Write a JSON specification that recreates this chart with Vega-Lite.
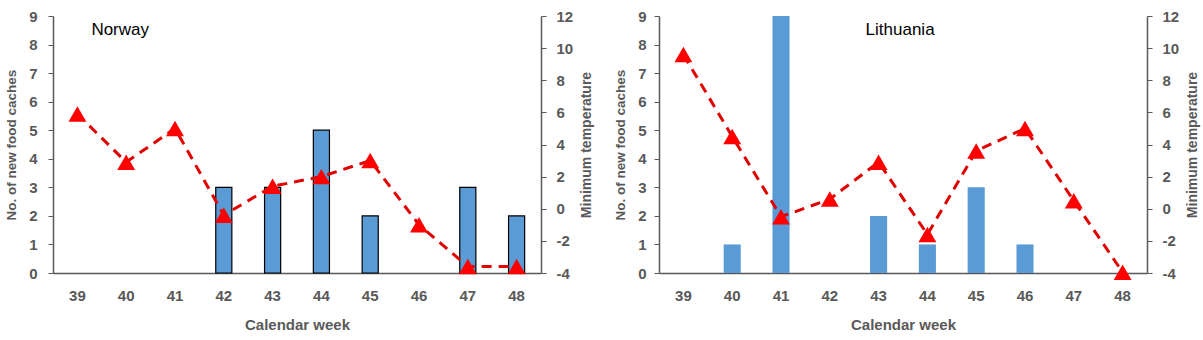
{
  "$schema": "https://vega.github.io/schema/vega-lite/v6.json",
  "padding": {"left": 4, "top": 9, "right": 2, "bottom": 2},
  "background": "white",
  "spacing": 19,
  "config": {
    "view": {"stroke": null},
    "font": "Liberation Sans",
    "axis": {
      "labelFont": "Liberation Sans",
      "labelFontWeight": "bold",
      "labelColor": "#595959",
      "titleFont": "Liberation Sans",
      "titleFontWeight": "bold",
      "titleColor": "#595959",
      "domainColor": "#595959",
      "tickColor": "#595959",
      "domainWidth": 1.5,
      "grid": false
    }
  },
  "datasets": {
    "caches": [
      {"country": "Norway", "week": "39", "caches": 0, "temp": 5.9},
      {"country": "Norway", "week": "40", "caches": 0, "temp": 2.9},
      {"country": "Norway", "week": "41", "caches": 0, "temp": 5.0},
      {"country": "Norway", "week": "42", "caches": 3, "temp": -0.4},
      {"country": "Norway", "week": "43", "caches": 3, "temp": 1.4},
      {"country": "Norway", "week": "44", "caches": 5, "temp": 2.0},
      {"country": "Norway", "week": "45", "caches": 2, "temp": 3.0},
      {"country": "Norway", "week": "46", "caches": 0, "temp": -1.0},
      {"country": "Norway", "week": "47", "caches": 3, "temp": -3.6},
      {"country": "Norway", "week": "48", "caches": 2, "temp": -3.6},
      {"country": "Lithuania", "week": "39", "caches": 0, "temp": 9.6},
      {"country": "Lithuania", "week": "40", "caches": 1, "temp": 4.5},
      {"country": "Lithuania", "week": "41", "caches": 9, "temp": -0.5},
      {"country": "Lithuania", "week": "42", "caches": 0, "temp": 0.6},
      {"country": "Lithuania", "week": "43", "caches": 2, "temp": 2.9},
      {"country": "Lithuania", "week": "44", "caches": 1, "temp": -1.6},
      {"country": "Lithuania", "week": "45", "caches": 3, "temp": 3.6},
      {"country": "Lithuania", "week": "46", "caches": 1, "temp": 5.0},
      {"country": "Lithuania", "week": "47", "caches": 0, "temp": 0.5},
      {"country": "Lithuania", "week": "48", "caches": 0, "temp": -3.95}
    ],
    "labels": [
      {"country": "Norway", "week": "40", "caches": 8.5},
      {"country": "Lithuania", "week": "43", "caches": 8.5}
    ]
  },
  "hconcat": [
    {
      "width": 488,
      "height": 257,
      "resolve": {"scale": {"y": "independent"}},
      "layer": [
        {
          "data": {"name": "caches"},
          "transform": [{"filter": "datum.country === 'Norway' && datum.caches > 0"}],
          "mark": {"type": "bar", "color": "#5B9BD5", "stroke": "black", "strokeWidth": 1.2},
          "encoding": {
            "x": {"field": "week", "type": "ordinal", "sort": ["39","40","41","42","43","44","45","46","47","48"],
              "scale": {"domain": ["39","40","41","42","43","44","45","46","47","48"], "paddingInner": 0.67, "paddingOuter": 0.335},
              "axis": {"title": "Calendar week", "labelAngle": 0, "ticks": false, "labelFontSize": 15, "labelPadding": 15, "titleFontSize": 15, "titlePadding": 14}},
            "y": {"field": "caches", "type": "quantitative", "scale": {"domain": [0, 9], "nice": false},
              "axis": {"title": "No. of new food caches", "values": [0,1,2,3,4,5,6,7,8,9], "labelFontSize": 15, "labelPadding": 11, "tickSize": 5, "titleFontSize": 13.5, "titlePadding": 10}}
          }
        },
        {
          "data": {"name": "labels"},
          "transform": [{"filter": "datum.country === 'Norway'"}],
          "mark": {"type": "text", "fontSize": 17, "color": "black", "align": "center", "dx": -6},
          "encoding": {
            "x": {"field": "week", "type": "ordinal"},
            "y": {"field": "caches", "type": "quantitative", "scale": {"domain": [0, 9], "nice": false}, "axis": null},
            "text": {"field": "country"}
          }
        },
        {
          "data": {"name": "caches"},
          "transform": [{"filter": "datum.country === 'Norway'"}],
          "mark": {"type": "line", "color": "#E00000", "strokeWidth": 3, "strokeDash": [10, 7]},
          "encoding": {
            "x": {"field": "week", "type": "ordinal"},
            "y": {"field": "temp", "type": "quantitative", "scale": {"domain": [-4, 12], "nice": false},
              "axis": {"orient": "right", "title": "Minimum temperature", "titleAngle": 270, "values": [-4,-2,0,2,4,6,8,10,12], "labelExpr": "replace(datum.label, '\u2212', '-')", "labelFontSize": 15, "labelPadding": 10, "tickSize": 5, "titleFontSize": 14, "titlePadding": 21}}
          }
        },
        {
          "data": {"name": "caches"},
          "transform": [{"filter": "datum.country === 'Norway'"}],
          "mark": {"type": "point", "shape": "triangle-up", "filled": true, "color": "#FF0000", "size": 320, "opacity": 1},
          "encoding": {
            "x": {"field": "week", "type": "ordinal"},
            "y": {"field": "temp", "type": "quantitative", "scale": {"domain": [-4, 12], "nice": false}, "axis": null}
          }
        }
      ]
    },
    {
      "width": 488,
      "height": 257,
      "resolve": {"scale": {"y": "independent"}},
      "layer": [
        {
          "data": {"name": "caches"},
          "transform": [{"filter": "datum.country === 'Lithuania' && datum.caches > 0"}],
          "mark": {"type": "bar", "color": "#5B9BD5"},
          "encoding": {
            "x": {"field": "week", "type": "ordinal", "sort": ["39","40","41","42","43","44","45","46","47","48"],
              "scale": {"domain": ["39","40","41","42","43","44","45","46","47","48"], "paddingInner": 0.65, "paddingOuter": 0.325},
              "axis": {"title": "Calendar week", "labelAngle": 0, "ticks": false, "labelFontSize": 15, "labelPadding": 15, "titleFontSize": 15, "titlePadding": 14}},
            "y": {"field": "caches", "type": "quantitative", "scale": {"domain": [0, 9], "nice": false},
              "axis": {"title": "No. of new food caches", "values": [0,1,2,3,4,5,6,7,8,9], "labelFontSize": 15, "labelPadding": 8, "tickSize": 5, "titleFontSize": 13.5, "titlePadding": 10}}
          }
        },
        {
          "data": {"name": "labels"},
          "transform": [{"filter": "datum.country === 'Lithuania'"}],
          "mark": {"type": "text", "fontSize": 17, "color": "black", "align": "left", "dx": -13},
          "encoding": {
            "x": {"field": "week", "type": "ordinal"},
            "y": {"field": "caches", "type": "quantitative", "scale": {"domain": [0, 9], "nice": false}, "axis": null},
            "text": {"field": "country"}
          }
        },
        {
          "data": {"name": "caches"},
          "transform": [{"filter": "datum.country === 'Lithuania'"}],
          "mark": {"type": "line", "color": "#E00000", "strokeWidth": 3, "strokeDash": [10, 7]},
          "encoding": {
            "x": {"field": "week", "type": "ordinal"},
            "y": {"field": "temp", "type": "quantitative", "scale": {"domain": [-4, 12], "nice": false},
              "axis": {"orient": "right", "title": "Minimum temperature", "titleAngle": 270, "values": [-4,-2,0,2,4,6,8,10,12], "labelExpr": "replace(datum.label, '\u2212', '-')", "labelFontSize": 15, "labelPadding": 10, "tickSize": 5, "titleFontSize": 14, "titlePadding": 21}}
          }
        },
        {
          "data": {"name": "caches"},
          "transform": [{"filter": "datum.country === 'Lithuania'"}],
          "mark": {"type": "point", "shape": "triangle-up", "filled": true, "color": "#FF0000", "size": 320, "opacity": 1},
          "encoding": {
            "x": {"field": "week", "type": "ordinal"},
            "y": {"field": "temp", "type": "quantitative", "scale": {"domain": [-4, 12], "nice": false}, "axis": null}
          }
        }
      ]
    }
  ]
}
